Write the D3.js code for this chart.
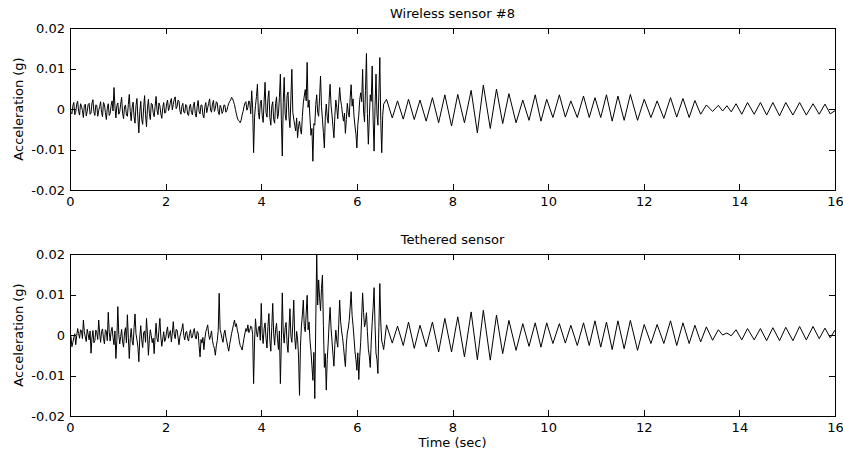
<!DOCTYPE html>
<html>
<head>
<meta charset="utf-8">
<script src="https://cdn.jsdelivr.net/npm/d3@7"></script>
<style>
  body { margin: 0; background: #fff; }
</style>
</head>
<body>
<svg id="svg" width="843" height="459"></svg>
<script>
// acceleration values are in milli-g
// part 1: samples every 0.02 sec, from 0 to 6.56 sec
var noiseStep = 0.02;

var wirelessNoise = [
  0.5, -0.9, -1.2, 0.8, 1.6, -1.4, -0.8, 1.2, 1.9, -0.6, -1.5, 1.3, 0.7, -0.4, -2.1, 0.9, 1.2, -1.7, -0.6, 1.1,
  1.4, -1.3, -1.0, 1.5, 2.3, -0.7, -1.6, 1.0, 0.9, -1.8, -0.4, 0.6, 1.8, -0.8, -1.9, 1.6, 1.1, -0.9, -2.6, 0.2,
  1.3, -1.6, -1.1, 0.9, 2.0, -0.5, 5.3, 0.6, -2.2, 0.8, 1.5, -1.3, -0.7, 1.2, 2.9, -1.0, -2.4, 0.5, 1.0, -1.5,
  -1.8, 1.1, 3.6, -0.6, -2.9, 0.4, 1.7, -1.9, -3.5, 0.8, 2.6, -2.2, -5.9, -0.7, 1.9, -2.6, -3.8, 0.3, 3.3, -1.4,
  -4.4, 0.2, 2.4, -1.1, -2.6, 1.4, 1.2, -0.9, -1.9, 0.6, 3.1, -0.3, -1.4, 1.5, 0.8, -1.2, -2.3, 0.4, 1.6, -1.0,
  -0.9, 1.3, 2.2, -0.4, 0.4, 1.7, 2.6, -0.2, 1.1, 2.4, 3.0, 0.1, 0.6, 2.2, 1.9, -0.5, -1.3, 0.7, 1.4, -0.8,
  -1.0, 1.1, 0.8, -1.3, -1.6, 0.5, 1.2, -0.9, -1.4, 0.8, 1.7, -1.1, -2.0, 0.6, 2.1, -0.7, -1.2, 1.0, 0.9, -1.5,
  -2.2, 0.5, 1.6, -0.9, 0.3, 1.4, 2.5, -0.3, -0.8, 1.2, 2.1, -0.6, 0.2, 1.8, 1.5, -0.7, -1.4, 0.9, 0.4, -1.1,
  -0.6, 1.0, 0.9, -0.8, -0.4, 0.6, 1.4, 1.9, 2.2, 2.9, 2.6, 1.8, 1.1, -0.1, -1.2, -2.2, -2.8, -3.0, -3.4, -2.7,
  -1.5, -0.6, 0.6, 1.5, 1.8, -0.3, 0.4, 2.0, 1.5, -1.2, 4.5, 0.2, -10.8, -2.0, 0.9, 3.1, 6.1, -0.8, -2.5, 1.4,
  2.2, -1.6, -3.3, 1.9, 6.6, -0.9, -2.0, 2.6, 4.5, -2.1, -4.0, 0.7, 1.8, -2.6, -3.5, 1.3, 3.0, -2.4, -1.2, 2.8,
  8.6, -2.5, -11.6, 1.6, 7.8, -1.3, -2.8, 3.3, 4.2, -1.9, -4.6, 2.7, 9.8, -0.8, -2.5, -4.0, -5.4, -2.2, -7.1, -4.3,
  -3.0, -5.1, -6.2, -1.8, 1.5, 3.2, 4.8, 2.0, 11.5, 0.4, 2.2, -2.4, -6.5, -4.8, -12.9, -3.6, -4.0, 1.1, 3.5, -0.8,
  -1.8, 2.9, 8.1, 0.6, -2.5, -5.8, -9.6, -1.9, 1.2, -2.0, -3.5, 2.4, 6.1, 0.9, -1.5, -4.4, -7.1, -1.6, 2.2, 0.3,
  -2.4, 1.5, 5.3, 2.2, 0.8, -1.4, -3.0, -1.0, -6.0, -2.6, 1.4, -0.9, -2.0, 2.8, 6.0, 0.7, 2.5, -1.8, -4.2, -6.1,
  -9.6, -3.8, -1.5, 2.3, 4.0, 1.8, 9.8, -0.5, -3.2, 4.6, 13.7, -1.1, -8.7, -2.4, 3.5, 1.9, 10.6, -2.7, -10.4, 0.6,
  8.6, -1.2, -4.0, 3.8, 12.7, -2.9, -10.8, -1.6, 1.2
];

var tetheredNoise = [
  -1.5, -0.4, -2.9, -1.8, -0.6, 0.3, -2.4, -0.2, 1.6, 0.4, -0.8, 1.3, 1.0, -0.9, 3.7, 0.8, -0.5, -1.6, 1.4, 0.2,
  -1.2, 1.0, -4.5, -0.7, 1.1, -1.9, -1.4, 1.2, 0.6, -1.1, 3.7, 0.5, -1.8, 0.9, 1.5, -0.8, -2.2, 1.3, 0.9, -1.4,
  5.6, 0.7, -1.5, 0.9, 1.9, -0.6, -2.4, 1.0, -5.8, -1.3, 7.0, 0.2, -2.2, -0.4, 1.4, -1.7, -3.0, 0.5, 1.8, -1.9,
  5.0, -0.6, -5.8, -0.9, 1.6, -1.5, -2.5, 1.8, 5.2, 0.3, -1.2, -2.9, -6.6, -0.5, 2.3, -1.2, -3.1, 0.6, 1.0, -1.8,
  4.1, 0.2, -5.0, -1.1, 1.3, -0.2, -1.9, -0.8, -4.6, -0.4, 2.9, -0.9, -1.7, 1.2, 4.1, -0.5, -2.8, -1.0, 0.8, -1.6,
  -1.0, 0.9, 2.0, -0.8, 0.3, 1.1, -1.7, 0.4, 3.3, 0.2, -0.9, 1.4, 1.2, -0.6, -2.4, -0.3, 0.6, 1.5, 2.8, -0.1,
  -1.2, 0.6, 0.9, -0.9, -1.5, 0.4, 1.3, -0.7, -0.6, 0.8, 1.6, -0.5, -1.0, 0.9, 0.5, -2.6, -5.4, -1.1, -2.0, -0.6,
  -3.6, -1.0, 0.8, 1.6, 2.5, 0.2, -1.1, -0.2, 1.0, -1.4, -2.6, -3.3, -5.0, -2.7, -1.4, 1.1, 10.3, 1.3, 0.4, -0.9,
  -1.8, 0.3, 1.2, -0.5, -1.6, -2.9, -4.0, -2.3, -1.0, 0.4, 1.5, 2.6, 3.7, 2.1, 2.8, 1.2, 0.2, -1.5, -2.6, -3.0,
  -3.7, -2.2, -0.8, 0.5, 1.6, 0.9, 2.5, 0.6, 1.2, 2.2, 2.0, 0.1, -12.0, -1.5, 4.0, 0.8, -0.5, 1.7, 2.2, -1.3,
  7.8, 0.4, -2.1, 1.6, 3.0, -0.8, -3.2, 2.1, 5.3, -1.2, -4.0, 1.9, 7.8, 0.3, -2.5, 1.4, 2.9, -0.9, -3.6, 1.0,
  -12.0, -1.7, 10.4, 0.5, -2.0, 1.8, 3.1, -2.2, -4.3, 1.4, 6.5, -0.3, -1.8, 2.7, 8.6, -0.6, -3.5, 0.9, -1.0, -5.2,
  -14.9, -2.8, 2.2, 4.9, 8.6, 2.1, 0.8, 5.4, 9.8, 1.3, 3.2, -1.5, -4.0, -7.6, -11.2, -4.3, -15.7, 3.0, 20.0, 7.4,
  13.6, 9.2, 6.0, 11.5, 14.8, 2.4, -8.0, -4.6, -13.6, -6.1, -2.0, 3.0, 6.8, 1.7, -1.5, -4.8, -7.7, -2.3, 1.2, -1.5,
  -3.0, 2.6, 8.6, 3.4, 1.0, -0.6, -2.8, -5.5, -7.8, -2.2, 0.5, 1.7, 3.6, 6.9, 10.7, 4.8, 2.4, -0.7, -4.0, -6.0,
  -8.7, -4.4, -11.0, -5.3, -1.8, 4.2, 10.4, 5.6, 2.0, 3.1, 5.5, 0.9, -3.5, -5.2, -8.0, -1.7, 3.0, 6.8, 11.7, 2.4,
  -4.5, -6.0, -9.5, 1.8, 12.7, 3.0, -1.5, -2.4, -3.6
];

// part 2: the sway after the shaking, peak / trough times (sec), same for both sensors
var swayTimes = [
  6.62, 6.74, 6.85, 6.97, 7.08, 7.20, 7.32, 7.45, 7.58, 7.71,
  7.84, 7.98, 8.11, 8.25, 8.39, 8.52, 8.645, 8.79, 8.92, 9.05,
  9.18, 9.33, 9.47, 9.60, 9.73, 9.85, 9.97, 10.10, 10.235, 10.36,
  10.475, 10.61, 10.74, 10.86, 10.98, 11.10, 11.22, 11.34, 11.46, 11.59,
  11.72, 11.87, 12.01, 12.15, 12.28, 12.42, 12.56, 12.69, 12.82, 12.95,
  13.07, 13.19, 13.31, 13.44, 13.56, 13.65, 13.74, 13.83, 13.93, 14.05,
  14.17, 14.31, 14.44, 14.57, 14.70, 14.84, 14.97, 15.12, 15.26, 15.40,
  15.54, 15.67, 15.79, 15.90, 16.0
];

var wirelessSway = [
  2.4, -2.2, 2.0, -2.5, 2.4, -2.6, 2.2, -3.0, 2.8, -3.4,
  3.5, -4.2, 3.6, -3.4, 4.6, -5.9, 5.9, -4.8, 4.9, -3.6,
  3.8, -3.4, 2.2, -2.8, 3.5, -3.0, 2.4, -2.1, 3.5, -2.0,
  2.0, -2.1, 3.2, -2.1, 2.8, -2.1, 3.5, -3.0, 3.2, -2.8,
  3.6, -2.8, 2.4, -2.1, 2.0, -2.3, 2.8, -2.0, 2.6, -2.1,
  2.1, -1.3, 1.0, -0.6, 0.9, -0.5, 0.8, -0.7, 1.3, -1.3,
  1.6, -1.3, 1.6, -1.5, 1.6, -1.7, 1.6, -1.5, 1.6, -1.5,
  1.3, -1.3, 1.2, -1.2, -0.4
];

var tetheredSway = [
  2.5, -2.0, 2.2, -2.6, 3.2, -3.3, 2.4, -2.9, 3.2, -4.2,
  4.1, -4.2, 4.5, -5.4, 5.7, -6.1, 6.1, -6.2, 4.9, -4.6,
  3.6, -3.8, 2.8, -2.8, 3.0, -3.0, 3.0, -2.1, 2.8, -2.0,
  2.4, -2.6, 3.0, -2.6, 3.5, -3.0, 3.2, -3.6, 3.5, -3.4,
  3.6, -3.8, 2.6, -2.1, 2.6, -2.1, 3.5, -2.6, 3.0, -2.1,
  2.4, -1.7, 2.0, -1.3, 1.3, 0.0, 0.5, -0.2, 1.3, -1.2,
  1.6, -1.2, 1.6, -1.4, 1.8, -1.4, 1.9, -1.4, 2.1, -1.2,
  2.1, -0.9, 1.7, -0.7, 1.2
];

var titles = ["Wireless sensor #8", "Tethered sensor"];
var xTicks = [0, 2, 4, 6, 8, 10, 12, 14, 16];
var yTicks = [-0.02, -0.01, 0, 0.01, 0.02];
var yTickLabels = ["-0.02", "-0.01", "0", "0.01", "0.02"];

var svg = d3.select("#svg");
var font = "DejaVu Sans, Verdana, sans-serif";
var fontSize = 13;

var padding = { left: 70, right: 8 };
var panelTops = [28, 254];
var panelHeight = 162;
var chartWidth = 843 - padding.left - padding.right;

var xScale = d3.scaleLinear().domain([0, 16]).range([0, chartWidth]);
var yScale = d3.scaleLinear().domain([-0.02, 0.02]).range([panelHeight, 0]);

// join the two parts into [time, g] points
function buildPoints(noise, sway) {
  var pts = noise.map(function (v, i) {
    return [i * noiseStep, v / 1000];
  });
  sway.forEach(function (v, i) {
    pts.push([swayTimes[i], v / 1000]);
  });
  return pts;
}

var series = [
  buildPoints(wirelessNoise, wirelessSway),
  buildPoints(tetheredNoise, tetheredSway)
];

var line = d3
  .line()
  .x(function (d) { return xScale(d[0]); })
  .y(function (d) { return yScale(d[1]); });

svg
  .append("defs")
  .append("clipPath")
  .attr("id", "plotClip")
  .append("rect")
  .attr("width", chartWidth)
  .attr("height", panelHeight);

series.forEach(function (pts, k) {
  var g = svg
    .append("g")
    .attr("transform", "translate(" + padding.left + "," + panelTops[k] + ")");

  // signal
  g.append("path")
    .datum(pts)
    .attr("clip-path", "url(#plotClip)")
    .attr("fill", "none")
    .attr("stroke", "#000")
    .attr("stroke-width", 1)
    .attr("stroke-linejoin", "round")
    .attr("d", line);

  // box with inward ticks on all four sides
  var bottom = g
    .append("g")
    .attr("transform", "translate(0," + panelHeight + ")")
    .call(d3.axisBottom(xScale).tickValues(xTicks).tickSizeInner(-6).tickSizeOuter(0).tickPadding(7));
  var top = g
    .append("g")
    .call(d3.axisTop(xScale).tickValues(xTicks).tickSizeInner(-6).tickSizeOuter(0).tickFormat(""));
  var left = g
    .append("g")
    .call(
      d3.axisLeft(yScale)
        .tickValues(yTicks)
        .tickSizeInner(-6)
        .tickSizeOuter(0)
        .tickPadding(5)
        .tickFormat(function (d, i) { return yTickLabels[i]; })
    );
  var right = g
    .append("g")
    .attr("transform", "translate(" + chartWidth + ",0)")
    .call(d3.axisRight(yScale).tickValues(yTicks).tickSizeInner(-6).tickSizeOuter(0).tickFormat(""));

  [bottom, top, left, right].forEach(function (a) {
    a.attr("font-family", font).attr("font-size", fontSize);
    a.selectAll("path, line").attr("stroke", "#000").attr("shape-rendering", "crispEdges");
    a.selectAll("text").attr("fill", "#000");
  });

  // panel title
  g.append("text")
    .attr("x", chartWidth / 2)
    .attr("y", -10)
    .attr("text-anchor", "middle")
    .attr("font-family", font)
    .attr("font-size", fontSize)
    .text(titles[k]);

  g.append("text")
    .attr("transform", "translate(-47," + panelHeight / 2 + ") rotate(-90)")
    .attr("text-anchor", "middle")
    .attr("font-family", font)
    .attr("font-size", fontSize)
    .text("Acceleration (g)");
});

svg
  .append("text")
  .attr("x", padding.left + chartWidth / 2)
  .attr("y", 447)
  .attr("text-anchor", "middle")
  .attr("font-family", font)
  .attr("font-size", fontSize)
  .text("Time (sec)");
</script>
</body>
</html>
